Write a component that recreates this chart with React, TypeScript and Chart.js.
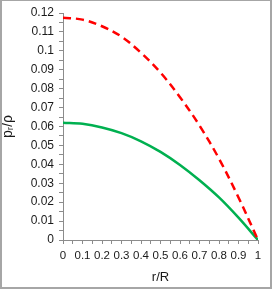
import React, { useEffect, useRef } from "react";
import { Chart, registerables } from "chart.js";

Chart.register(...registerables);

const rValues = [0, 0.1, 0.2, 0.3, 0.4, 0.5, 0.6, 0.7, 0.8, 0.9, 1];
const redSeries = [0.1175, 0.1165, 0.113, 0.1075, 0.099, 0.0885, 0.0755, 0.0605, 0.043, 0.0225, 0];
const greenSeries = [0.062, 0.0614, 0.0595, 0.0565, 0.0522, 0.0466, 0.0397, 0.0316, 0.0225, 0.0118, 0];
const xTitle = "r/R";
const yTitle = "pᵣ/ρ";

const FONT = "'Liberation Sans', Arial, sans-serif";

export default function App() {
  const ref = useRef<HTMLCanvasElement | null>(null);

  useEffect(() => {
    document.body.style.margin = "0";
    const ctx = ref.current!.getContext("2d")!;
    const chart = new Chart(ctx, {
      type: "line",
      data: {
        datasets: [
          {
            data: rValues.map((x, i) => ({ x, y: redSeries[i] })),
            borderColor: "#ff0000",
            borderWidth: 2.5,
            borderDash: [8, 5],
            pointRadius: 0,
            tension: 0.35,
            fill: false,
          },
          {
            data: rValues.map((x, i) => ({ x, y: greenSeries[i] })),
            borderColor: "#00b050",
            borderWidth: 2.5,
            pointRadius: 0,
            tension: 0.35,
            fill: false,
          },
        ],
      },
      options: {
        responsive: false,
        animation: false,
        layout: { padding: { left: 0, top: 13, right: 15, bottom: 0 } },
        plugins: { legend: { display: false }, tooltip: { enabled: false } },
        scales: {
          x: {
            type: "linear",
            min: 0,
            max: 1,
            afterFit: (s: any) => {
              s.height = 50;
            },
            border: { display: true, color: "#8c8c8c", width: 1 },
            grid: { drawOnChartArea: false, drawTicks: true, tickLength: 4, color: "#8c8c8c" },
            ticks: {
              stepSize: 0.05,
              autoSkip: false,
              maxRotation: 0,
              padding: 5,
              color: "#1a1a1a",
              font: { family: FONT, size: 11.5 },
              callback: (v: any) => {
                const n = Math.round(Number(v) * 100);
                if (n % 10 !== 0) return "";
                return String(n / 100);
              },
            },
            title: {
              display: true,
              text: xTitle,
              color: "#1a1a1a",
              font: { family: FONT, size: 13 },
              padding: { top: 2, bottom: 5 },
            },
          },
          y: {
            type: "linear",
            min: 0,
            max: 0.12,
            afterFit: (s: any) => {
              s.width = 63;
            },
            border: { display: true, color: "#8c8c8c", width: 1 },
            grid: { drawOnChartArea: false, drawTicks: true, tickLength: 4, color: "#8c8c8c" },
            ticks: {
              stepSize: 0.005,
              autoSkip: false,
              padding: 5,
              color: "#1a1a1a",
              font: { family: FONT, size: 12 },
              callback: (v: any) => {
                const n = Math.round(Number(v) * 1000);
                if (n % 10 !== 0) return "";
                return String(n / 1000);
              },
            },
            title: {
              display: true,
              text: yTitle,
              color: "#1a1a1a",
              font: { family: FONT, size: 14 },
              padding: { top: 0, bottom: 2 },
            },
          },
        },
      },
    });
    return () => chart.destroy();
  }, []);

  return (
    <div style={{ position: "absolute", left: 0, top: 0, width: 273, height: 290, background: "#fff" }}>
      <canvas ref={ref} width={273} height={290} style={{ display: "block", width: 273, height: 290 }} />
      <div
        style={{
          position: "absolute",
          left: 0,
          top: 0,
          width: 272,
          height: 289,
          boxSizing: "border-box",
          borderTop: "1px solid #a6a6a6",
          borderLeft: "2px solid #a6a6a6",
          borderRight: "2px solid #a6a6a6",
          borderBottom: "2px solid #a6a6a6",
          pointerEvents: "none",
        }}
      />
    </div>
  );
}
